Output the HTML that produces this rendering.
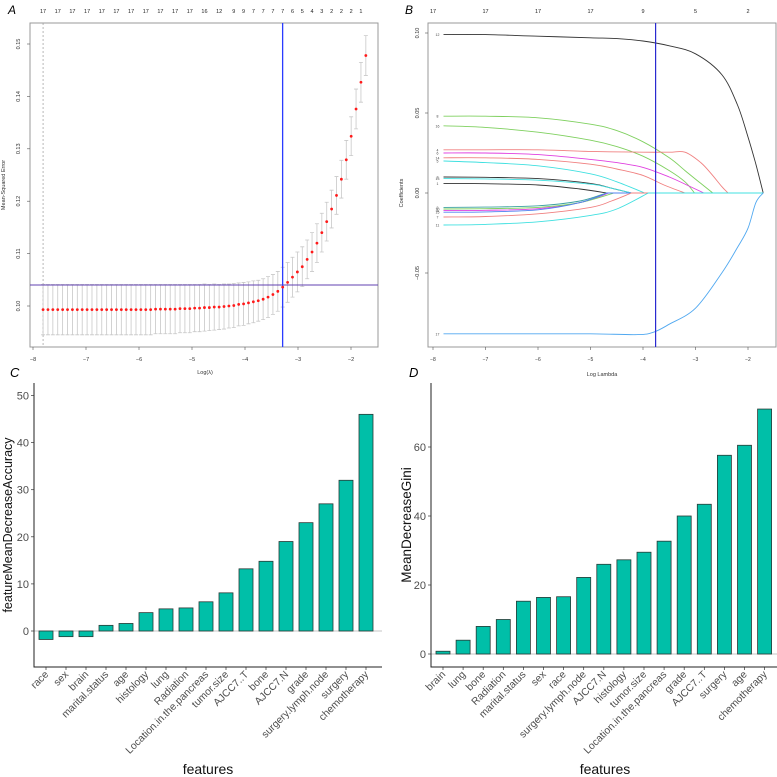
<!DOCTYPE html>
<html><head><meta charset="utf-8"><style>
html,body{margin:0;padding:0;background:#fff;}
svg{display:block;font-family:"Liberation Sans",sans-serif;}
</style></head><body>
<svg id="fig" width="777" height="777" viewBox="0 0 777 777">
<rect width="777" height="777" fill="#fff"/>
<g id="pA"></g>
<g id="pB"></g>
<g id="pC"></g>
<g id="pD"></g>
</svg>
<script>
// ---------- Panel A data ----------
const aMse = [0.0993,0.0993,0.0993,0.0993,0.0993,0.0993,0.0993,0.0993,0.0993,0.0993,
0.0993,0.0993,0.0993,0.0993,0.0993,0.0993,0.0993,0.0993,0.0993,0.0993,
0.0993,0.0993,0.0993,0.0994,0.0994,0.0994,0.0994,0.0994,0.0995,0.0995,
0.0995,0.0996,0.0996,0.0997,0.0997,0.0998,0.0998,0.0999,0.1000,0.1001,
0.1003,0.1004,0.1006,0.1008,0.1010,0.1013,0.1017,0.1022,0.1028,0.1036,
0.1045,0.1055,0.1065,0.1075,0.1089,0.1103,0.1120,0.1140,0.1161,0.1185,
0.1211,0.1242,0.1279,0.1324,0.1376,0.1427,0.1478];
const aSe = [0.0048,0.0048,0.0048,0.0048,0.0048,0.0048,0.0048,0.0048,0.0048,0.0048,
0.0048,0.0048,0.0048,0.0048,0.0048,0.0048,0.0048,0.0048,0.0048,0.0048,
0.0048,0.0048,0.0048,0.0047,0.0047,0.0047,0.0047,0.0047,0.0046,0.0046,
0.0046,0.0045,0.0045,0.0045,0.0044,0.0044,0.0043,0.0043,0.0042,0.0042,
0.0041,0.0041,0.0040,0.0040,0.0039,0.0039,0.0039,0.0038,0.0038,0.0038,
0.0038,0.0038,0.0038,0.0038,0.0037,0.0037,0.0037,0.0037,0.0037,0.0036,
0.0036,0.0036,0.0037,0.0037,0.0038,0.0038,0.0038];
const aLogStart = -7.81, aLogEnd = -1.72;
const aTopIdx = [0,3,6,9,12,15,18,21,24,27,30,33,36,39,41,43,45,47,49,51,53,55,57,59,61,63,65];
const aTopLbl = [17,17,17,17,17,17,17,17,17,17,17,16,12,9,9,7,7,7,7,6,5,4,3,2,2,2,1];
const aXTicks = [-8,-7,-6,-5,-4,-3,-2];
const aYTicks = [0.10,0.11,0.12,0.13,0.14,0.15];
const aMinLam = -3.29, a1se = 0.1040;

// ---------- Panel B data ----------
const bNames = ["12","8","16","4","6","14","5","2","13","1","9","3","10","15","7","11","17"];
const bColors = ["#333","#7fd05f","#7fd05f","#f08080","#e040e0","#f08080","#40e0e0","#333","#40e0e0","#333","#3aa0a0","#e040e0","#7fd05f","#5080f0","#f08080","#40e0e0","#50a8f0"];
const bX = [
[-7.8,-7,-6,-5,-4.5,-4,-3.5,-3,-2.5,-2.2,-2,-1.85,-1.71],
[-7.8,-7,-6,-5,-4.5,-4,-3.5,-3.2,-2.9,-2.67],
[-7.8,-7,-6,-5,-4.5,-4,-3.5,-3.2,-3.02],
[-7.8,-7,-6,-5,-4,-3.5,-3.2,-2.9,-2.7,-2.5,-2.38],
[-7.8,-7,-6,-5,-4.5,-4,-3.5,-3.1,-2.84],
[-7.8,-7,-6,-5,-4.5,-4,-3.6,-3.2],
[-7.8,-7,-6,-5,-4.5,-3.97],
[-7.8,-7,-6,-5,-4.6,-4.22],
[-7.8,-7,-6,-5,-4.6,-4.22],
[-7.8,-7,-6,-5.2,-4.7],
[-7.8,-7,-6,-5.2,-4.7],
[-7.8,-7,-6,-5.2,-4.65],
[-7.8,-7,-6,-5.2,-4.55],
[-7.8,-7,-6,-5.2,-4.68],
[-7.8,-7,-6,-5,-4.6,-4.22],
[-7.8,-7,-6,-5,-4.5,-3.9],
[-7.8,-7,-6,-5,-4.1,-3.8,-3.5,-3,-2.5,-2.2,-2,-1.85,-1.71]];
const bY = [
[0.099,0.099,0.098,0.097,0.0965,0.095,0.092,0.087,0.074,0.055,0.035,0.018,0],
[0.048,0.048,0.047,0.043,0.039,0.032,0.022,0.014,0.006,0],
[0.042,0.041,0.038,0.033,0.029,0.023,0.014,0.007,0],
[0.027,0.027,0.027,0.026,0.0255,0.0255,0.0255,0.019,0.012,0.004,0],
[0.025,0.025,0.024,0.021,0.019,0.016,0.010,0.004,0],
[0.022,0.022,0.021,0.018,0.015,0.011,0.005,0],
[0.020,0.019,0.017,0.012,0.007,0],
[0.010,0.0098,0.009,0.006,0.003,0],
[0.009,0.0088,0.008,0.0055,0.003,0],
[0.006,0.0058,0.005,0.0025,0],
[-0.009,-0.0088,-0.008,-0.005,0],
[-0.011,-0.0108,-0.0098,-0.006,0],
[-0.010,-0.0098,-0.009,-0.006,0],
[-0.012,-0.0118,-0.0105,-0.006,0],
[-0.015,-0.0147,-0.013,-0.009,-0.005,0],
[-0.020,-0.0196,-0.018,-0.014,-0.010,0],
[-0.088,-0.088,-0.088,-0.088,-0.0885,-0.087,-0.082,-0.072,-0.050,-0.034,-0.022,-0.006,0]];
const bTopLbl = [17,17,17,17,9,5,2];
const bXTicks = [-8,-7,-6,-5,-4,-3,-2];
const bYTicks = [-0.05,0.00,0.05,0.10];
const bVline = -3.76;

// ---------- Panel C data ----------
const cCats = ["race","sex","brain","marital.status","age","histology","lung","Radiation","Location.in.the.pancreas","tumor.size","AJCC7..T","bone","AJCC7.N","grade","surgery.lymph.node","surgery","chemotherapy"];
const cVals = [-1.8,-1.2,-1.2,1.2,1.6,3.9,4.7,4.9,6.2,8.1,13.2,14.8,19.0,23.0,27.0,32.0,46.0];
const cYTicks = [0,10,20,30,40,50];

// ---------- Panel D data ----------
const dCats = ["brain","lung","bone","Radiation","marital.status","sex","race","surgery.lymph.node","AJCC7.N","histology","tumor.size","Location.in.the.pancreas","grade","AJCC7..T","surgery","age","chemotherapy"];
const dVals = [0.8,4.0,8.0,10.0,15.3,16.4,16.6,22.2,26.0,27.3,29.5,32.7,40.0,43.4,57.6,60.5,71.0];
const dYTicks = [0,20,40,60];

const NS="http://www.w3.org/2000/svg";
function mk(parent,tag,attrs,text){const e=document.createElementNS(NS,tag);for(const k in attrs)e.setAttribute(k,attrs[k]);if(text!==undefined)e.textContent=text;parent.appendChild(e);return e;}
function smooth(pts){
 let d='M'+pts[0][0].toFixed(1)+','+pts[0][1].toFixed(1);
 for(let i=0;i<pts.length-1;i++){
  const p0=pts[Math.max(0,i-1)],p1=pts[i],p2=pts[i+1],p3=pts[Math.min(pts.length-1,i+2)];
  const c1=[p1[0]+(p2[0]-p0[0])/6,p1[1]+(p2[1]-p0[1])/6];
  const c2=[p2[0]-(p3[0]-p1[0])/6,p2[1]-(p3[1]-p1[1])/6];
  d+='C'+c1[0].toFixed(1)+','+c1[1].toFixed(1)+' '+c2[0].toFixed(1)+','+c2[1].toFixed(1)+' '+p2[0].toFixed(1)+','+p2[1].toFixed(1);
 }
 return d;
}

// ===== Panel A =====
(function(){
const g=document.getElementById('pA');
const L=30,R=378,T=23,B=347;
const sx=v=>33+(v+8)*53;
const sy=v=>306-(v-0.10)*5240;
let e;
e=mk(g,'text',{x:8,y:14,'font-size':12,'font-style':'italic'},'A');


e=mk(g,'rect',{x:L,y:T,width:R-L,height:B-T,fill:'none',stroke:'#999','stroke-width':1});


const n=aMse.length,step=(aLogEnd-aLogStart)/(n-1);
const xs=i=>sx(aLogStart+i*step);
e=mk(g,'line',{x1:xs(0),x2:xs(0),y1:T,y2:B,stroke:'#999','stroke-dasharray':'2,2','stroke-width':0.7});


for(let i=0;i<n;i++){
 const x=xs(i),y1=sy(aMse[i]+aSe[i]),y2=sy(aMse[i]-aSe[i]);
 e=mk(g,'path',{d:`M${x},${y1}V${y2}M${x-2},${y1}H${x+2}M${x-2},${y2}H${x+2}`,stroke:'#c8c8c8','stroke-width':0.8,fill:'none'});
 
 
}
e=mk(g,'line',{x1:L,x2:R,y1:sy(a1se),y2:sy(a1se),stroke:'#6040b0','stroke-width':1});


e=mk(g,'line',{x1:sx(aMinLam),x2:sx(aMinLam),y1:T,y2:B,stroke:'#2a3cff','stroke-width':1.3});


for(let i=0;i<n;i++){
 e=mk(g,'circle',{cx:xs(i),cy:sy(aMse[i]),r:1.4,fill:'#ff1a1a'});
 
 
}
aTopIdx.forEach((idx,k)=>{
 e=mk(g,'text',{x:xs(idx),y:13,'font-size':5.5,'text-anchor':'middle',fill:'#222'},aTopLbl[k]);
 
 
});
aYTicks.forEach(v=>{
 e=mk(g,'line',{x1:L-3,x2:L,y1:sy(v),y2:sy(v),stroke:'#555','stroke-width':0.6});
 
 
 e=mk(g,'text',{x:0,y:0,'font-size':5.5,'text-anchor':'middle',fill:'#333',transform:`translate(20,${sy(v)}) rotate(-90)`},v.toFixed(2));
 
 
});
aXTicks.forEach(v=>{
 e=mk(g,'line',{x1:sx(v),x2:sx(v),y1:B,y2:B+3,stroke:'#555','stroke-width':0.6});
 
 
 e=mk(g,'text',{x:sx(v),y:361,'font-size':5.5,'text-anchor':'middle',fill:'#333'},'\u2212'+Math.abs(v));
 
 
});
e=mk(g,'text',{x:0,y:0,'font-size':5.5,'text-anchor':'middle',fill:'#333',transform:'translate(5,185) rotate(-90)'},'Mean-Squared Error');


e=mk(g,'text',{x:205,y:374,'font-size':5.5,'text-anchor':'middle',fill:'#333'},'Log(\u03BB)');


})();

// ===== Panel B =====
(function(){
const g=document.getElementById('pB');
const L=428,R=776,T=23,B=347;
const sx=v=>433+(v+8)*52.5;
const sy=v=>193-v*1600;
let e;
e=mk(g,'text',{x:405,y:14,'font-size':12,'font-style':'italic'},'B');


e=mk(g,'rect',{x:L,y:T,width:R-L,height:B-T,fill:'none',stroke:'#999','stroke-width':1});


e=mk(g,'line',{x1:sx(-4.7),x2:sx(-1.71),y1:sy(0),y2:sy(0),stroke:'#40d8e0','stroke-width':0.9});


bX.forEach((xa,k)=>{
 const ya=bY[k];
 const pts=xa.map((xv,i)=>[sx(xv),sy(ya[i])]);
 let d=smooth(pts);
 if(xa[xa.length-1]<-1.71) d+='L'+sx(-1.71).toFixed(1)+','+sy(0).toFixed(1);
 e=mk(g,'path',{d:d,fill:'none',stroke:bColors[k],'stroke-width':0.9,'stroke-linejoin':'round'});
 
 
 e=mk(g,'text',{x:sx(xa[0])-6,y:sy(ya[0])+1.5,'font-size':3.5,'text-anchor':'middle',fill:'#444'},bNames[k]);
 
 
});
e=mk(g,'line',{x1:sx(bVline),x2:sx(bVline),y1:T,y2:B,stroke:'#2a2ad0','stroke-width':1.2});


bXTicks.forEach((v,k)=>{
 e=mk(g,'text',{x:sx(v),y:13,'font-size':5.5,'text-anchor':'middle',fill:'#222'},bTopLbl[k]);
 
 
 e=mk(g,'line',{x1:sx(v),x2:sx(v),y1:B,y2:B+3,stroke:'#555','stroke-width':0.6});
 
 
 e=mk(g,'text',{x:sx(v),y:361,'font-size':5,'text-anchor':'middle',fill:'#333'},'\u2212'+Math.abs(v));
 
 
});
bYTicks.forEach(v=>{
 e=mk(g,'line',{x1:L-3,x2:L,y1:sy(v),y2:sy(v),stroke:'#555','stroke-width':0.6});
 
 
 e=mk(g,'text',{x:0,y:0,'font-size':5.5,'text-anchor':'middle',fill:'#333',transform:`translate(419,${sy(v)}) rotate(-90)`},(v<0?'\u2212':'')+Math.abs(v).toFixed(2));
 
 
});
e=mk(g,'text',{x:0,y:0,'font-size':5.5,'text-anchor':'middle',fill:'#333',transform:'translate(403,193) rotate(-90)'},'Coefficients');


e=mk(g,'text',{x:602,y:376,'font-size':5.5,'text-anchor':'middle',fill:'#333'},'Log Lambda');


})();

// ===== Bar panels =====
function barPanel(gid,letter,lx,cats,vals,ticks,axL,zeroY,pxPer,firstX,spacing,ytitle,titleX,titleSize){
const g=document.getElementById(gid);
const T=383,B=667,R=axL+348;
const sy=v=>zeroY-v*pxPer;
const sx=i=>firstX+i*spacing;
let e;
e=mk(g,'text',{x:lx,y:377,'font-size':13,'font-style':'italic'},letter);


e=mk(g,'line',{x1:axL,x2:R,y1:zeroY,y2:zeroY,stroke:'#d0d0d0','stroke-width':1.2});


cats.forEach((c,i)=>{
 const v=vals[i],y1=Math.min(sy(v),zeroY),h=Math.abs(sy(v)-zeroY);
 e=mk(g,'rect',{x:sx(i)-7,y:y1,width:14,height:h,fill:'#00bfa8',stroke:'#2a3a36','stroke-width':0.8});
 
 
 e=mk(g,'line',{x1:sx(i),x2:sx(i),y1:B,y2:B+3,stroke:'#333','stroke-width':0.7});
 
 
 e=mk(g,'text',{x:0,y:0,'font-size':10.3,'text-anchor':'end',fill:'#4d4d4d',transform:`translate(${sx(i)+3},${B+8}) rotate(-45)`},c);
 
 
});
e=mk(g,'path',{d:`M${axL},${T}V${B}H${R}`,fill:'none',stroke:'#222','stroke-width':1});


ticks.forEach(v=>{
 e=mk(g,'line',{x1:axL-3,x2:axL,y1:sy(v),y2:sy(v),stroke:'#333','stroke-width':0.7});
 
 
 e=mk(g,'text',{x:axL-5,y:sy(v)+4,'font-size':11,'text-anchor':'end',fill:'#4d4d4d'},v);
 
 
});
e=mk(g,'text',{x:0,y:0,'font-size':titleSize,'text-anchor':'middle',fill:'#111',transform:`translate(${titleX},525) rotate(-90)`},ytitle);


e=mk(g,'text',{x:(axL+R)/2,y:774,'font-size':14,'text-anchor':'middle',fill:'#111'},'features');


}
barPanel('pC','C',10,cCats,cVals,cYTicks,34,631,4.71,46,20,'featureMeanDecreaseAccuracy',12,12.5);
barPanel('pD','D',409,dCats,dVals,dYTicks,431,654,3.45,443,20.1,'MeanDecreaseGini',411,13.5);
</script>
</body></html>
